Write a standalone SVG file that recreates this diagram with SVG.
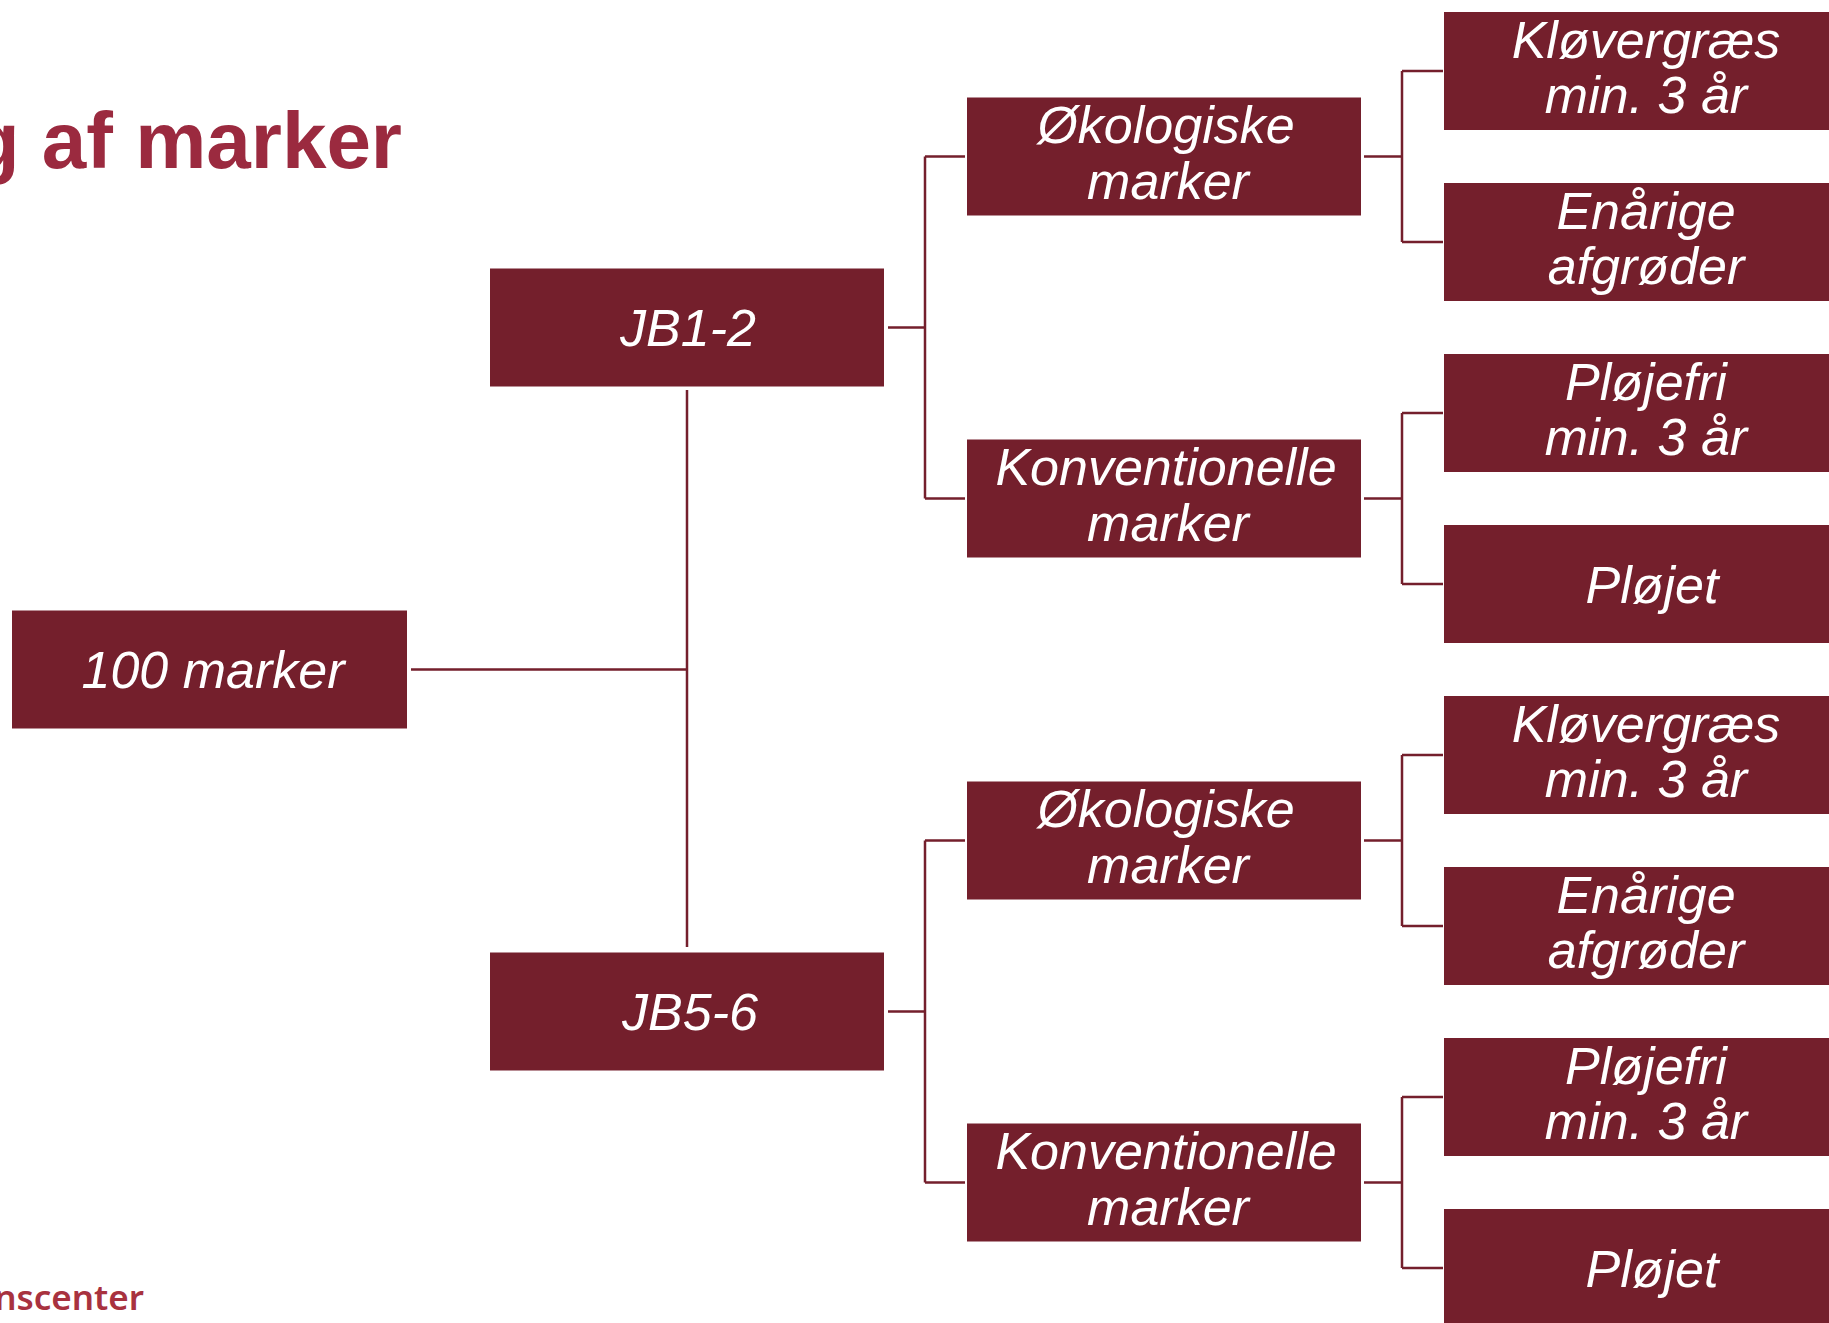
<svg xmlns="http://www.w3.org/2000/svg" width="1829" height="1323" viewBox="0 0 1829 1323">
<style>
.box{fill:#741F2C}
.t{font-family:"Liberation Sans",Arial,sans-serif;font-style:italic;font-size:52px;fill:#ffffff;text-anchor:middle}
.c{fill:none;stroke:#741F2C;stroke-width:2.5}
.title{font-family:"Liberation Sans",Arial,sans-serif;font-weight:bold;font-size:80px;fill:#9B2A3F;text-anchor:end}
.foot{font-family:"Noto Sans",sans-serif;font-size:35px;font-weight:600;fill:#A8323F;text-anchor:end}
</style>
<rect width="1829" height="1323" fill="#ffffff"/>
<text class="title" x="402" y="168">g af marker</text>
<text class="foot" x="144" y="1310">nscenter</text>
<g id="connectors">
<path class="c" d="M411 669.5H687M687 390V947"/>
<path class="c" d="M888 327.5H925M925 156.5V498.5M925 156.5H965M925 498.5H965"/>
<path class="c" d="M888 1011.5H925M925 840.5V1182.5M925 840.5H965M925 1182.5H965"/>
<path class="c" d="M1364 156.5H1402M1402 71V242M1402 71H1443M1402 242H1443"/>
<path class="c" d="M1364 498.5H1402M1402 413V584M1402 413H1443M1402 584H1443"/>
<path class="c" d="M1364 840.5H1402M1402 755V926M1402 755H1443M1402 926H1443"/>
<path class="c" d="M1364 1182.5H1402M1402 1097V1268M1402 1097H1443M1402 1268H1443"/>
</g>
<g id="n100"><rect class="box" x="12" y="610.5" width="395" height="118"/><text class="t" x="213" y="688">100 marker</text></g>
<g id="jb12"><rect class="box" x="490" y="268.5" width="394" height="118"/><text class="t" x="688" y="346">JB1-2</text></g>
<g id="jb56"><rect class="box" x="490" y="952.5" width="394" height="118"/><text class="t" x="690" y="1030">JB5-6</text></g>
<g id="oko1"><rect class="box" x="967" y="97.5" width="394" height="118"/><text class="t" x="1166" y="143">Økologiske</text><text class="t" x="1168" y="199">marker</text></g>
<g id="konv1"><rect class="box" x="967" y="439.5" width="394" height="118"/><text class="t" x="1166" y="485">Konventionelle</text><text class="t" x="1168" y="541">marker</text></g>
<g id="oko2"><rect class="box" x="967" y="781.5" width="394" height="118"/><text class="t" x="1166" y="827">Økologiske</text><text class="t" x="1168" y="883">marker</text></g>
<g id="konv2"><rect class="box" x="967" y="1123.5" width="394" height="118"/><text class="t" x="1166" y="1169">Konventionelle</text><text class="t" x="1168" y="1225">marker</text></g>
<g id="klo1"><rect class="box" x="1444" y="12" width="394" height="118"/><text class="t" x="1646" y="58">Kløvergræs</text><text class="t" x="1646" y="113">min. 3 år</text></g>
<g id="enaa1"><rect class="box" x="1444" y="183" width="394" height="118"/><text class="t" x="1646" y="229">Enårige</text><text class="t" x="1646" y="284">afgrøder</text></g>
<g id="plf1"><rect class="box" x="1444" y="354" width="394" height="118"/><text class="t" x="1646" y="400">Pløjefri</text><text class="t" x="1646" y="455">min. 3 år</text></g>
<g id="plj1"><rect class="box" x="1444" y="525" width="394" height="118"/><text class="t" x="1652" y="602.5">Pløjet</text></g>
<g id="klo2"><rect class="box" x="1444" y="696" width="394" height="118"/><text class="t" x="1646" y="742">Kløvergræs</text><text class="t" x="1646" y="797">min. 3 år</text></g>
<g id="enaa2"><rect class="box" x="1444" y="867" width="394" height="118"/><text class="t" x="1646" y="913">Enårige</text><text class="t" x="1646" y="968">afgrøder</text></g>
<g id="plf2"><rect class="box" x="1444" y="1038" width="394" height="118"/><text class="t" x="1646" y="1084">Pløjefri</text><text class="t" x="1646" y="1139">min. 3 år</text></g>
<g id="plj2"><rect class="box" x="1444" y="1209" width="394" height="118"/><text class="t" x="1652" y="1286.5">Pløjet</text></g>
</svg>
